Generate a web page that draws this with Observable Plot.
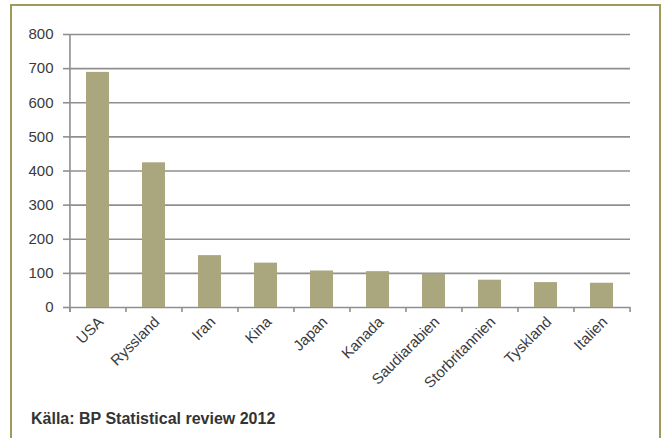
<!DOCTYPE html>
<html>
<head>
<meta charset="utf-8">
<script src="https://cdn.jsdelivr.net/npm/d3@7"></script>
<script src="https://cdn.jsdelivr.net/npm/@observablehq/plot@0.6"></script>
<style>
  html, body { margin: 0; padding: 0; background: #fff; width: 661px; height: 438px; overflow: hidden; }
  #frame { position: absolute; left: 10px; top: 4px; width: 647px; height: 440px; border: 2px solid #9d9b57; box-sizing: content-box; }
  #chart { position: absolute; left: 0; top: 0; }
  #chart svg text { font-family: "Liberation Sans", Arial, sans-serif; font-size: 15px; }
  #caption { position: absolute; left: 31px; top: 411px; font-family: "Liberation Sans", Arial, sans-serif; font-weight: bold; font-size: 16px; line-height: 16px; color: #333; white-space: nowrap; }
</style>
</head>
<body>
<div id="frame"></div>
<div id="chart"></div>
<div id="caption">Källa: BP Statistical review 2012</div>
<script>
const countries = ["USA", "Ryssland", "Iran", "Kina", "Japan", "Kanada", "Saudiarabien", "Storbritannien", "Tyskland", "Italien"];
const values = [689, 424, 152, 130, 107, 105, 98, 80, 73, 71];
const yTicks = [0, 100, 200, 300, 400, 500, 600, 700, 800];

const data = countries.map((c, i) => ({country: c, value: values[i]}));

const W = 661, H = 400, mL = 69, mR = 31, mT = 34, mB = 93;
const step = (W - mL - mR) / countries.length;
const gridColor = "#8f8f8f";
const textColor = "#3a3a3a";

const chart = Plot.plot({
  width: W,
  height: H,
  marginLeft: mL,
  marginRight: mR,
  marginTop: mT,
  marginBottom: mB,
  style: {fontFamily: "'Liberation Sans', Arial, sans-serif", fontSize: "15px", color: textColor, background: "transparent", overflow: "visible"},
  x: {domain: countries, paddingInner: 0.59, paddingOuter: 0.295, label: null},
  y: {domain: [0, 800], label: null},
  marks: [
    Plot.ruleY(yTicks, {stroke: gridColor, strokeWidth: 1.6}),
    Plot.barY(data, {x: "country", y: "value", fill: "#aaa67e"}),
    Plot.ruleX(countries, {x: d => d, y1: -15, y2: 0, dx: -step / 2, stroke: gridColor, strokeWidth: 1.6}),
    Plot.ruleX(countries.slice(-1), {x: d => d, y1: -15, y2: 0, dx: step / 2, stroke: gridColor, strokeWidth: 1.6}),
    Plot.ruleX(countries.slice(0, 1), {x: d => d, y1: -15, y2: 800, dx: -step / 2, stroke: gridColor, strokeWidth: 1.6}),
    Plot.axisY({ticks: yTicks, tickSize: 6, tickPadding: 10, stroke: gridColor, strokeWidth: 1.6, tickFormat: d => String(d), fill: textColor, fontSize: 15}),
    Plot.axisX({tickSize: 0, tickPadding: 12, tickRotate: -45, fill: textColor, fontSize: 15, dx: 3})
  ]
});
document.getElementById("chart").appendChild(chart);
</script>
</body>
</html>
